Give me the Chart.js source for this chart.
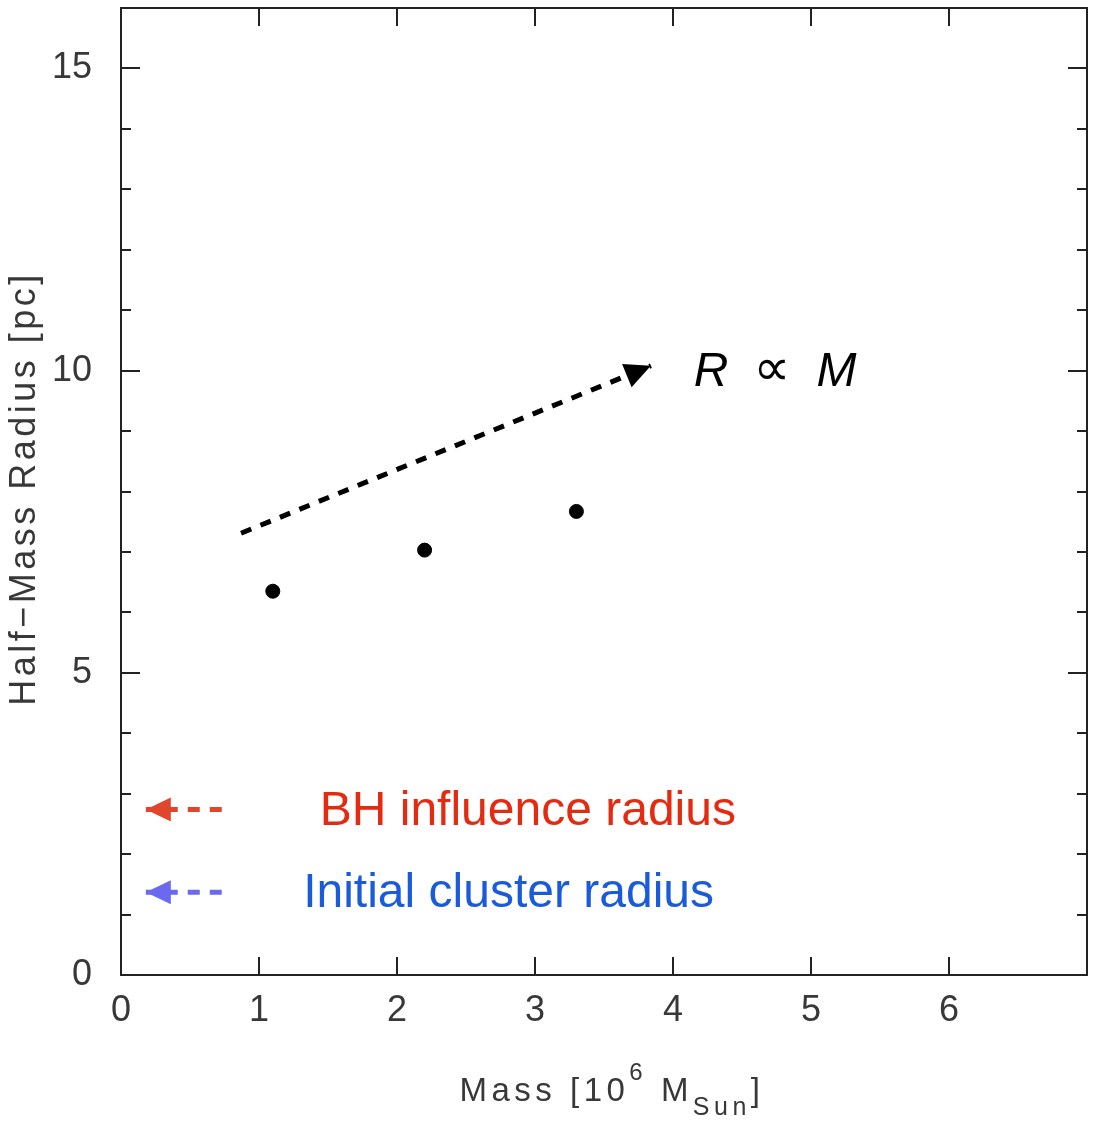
<!DOCTYPE html>
<html>
<head>
<meta charset="utf-8">
<script src="https://cdn.jsdelivr.net/npm/chart.js@4.4.1/dist/chart.umd.min.js"></script>
<style>
    body { margin: 0; background: #ffffff; }
    #radius_chart { display: block; }
</style>
</head>
<body>
<canvas id="radius_chart" width="1095" height="1122"></canvas>
<script>
// cluster mass (10^6 Msun) vs half-mass radius (pc)
var massValues = [1.1, 2.2, 3.3];
var radiusValues = [6.35, 7.03, 7.67];

// R ~ M guide arrow, start and tip
var trendMass = [0.87, 3.84];
var trendRadius = [7.31, 10.08];

// reference radii marked on the left
var markerLabels = ['BH influence radius', 'Initial cluster radius'];
var markerRadii = [2.74, 1.37];

var xTickLabels = ['0', '1', '2', '3', '4', '5', '6'];
var yTickLabels = ['0', '5', '10', '15'];

var axisFont = 'Liberation Sans, Arial, sans-serif';
var axisColor = '#383838';
var markerTextColors = ['#e42a10', '#1a5bd9'];
var markerArrowColors = ['#e0462c', '#6a6af0'];

// little arrows pointing at the axis, drawn right to left so the dash starts at the tail
var markerSets = markerRadii.map(function(r, i) {
    return {
        type: 'line',
        data: [{ x: 0.73, y: r }, { x: 0.18, y: r }],
        borderColor: markerArrowColors[i],
        borderWidth: 5,
        borderDash: [12, 10],
        borderCapStyle: 'butt',
        pointRadius: 0,
        fill: false,
        headLength: 25,
        headWidth: 12,
    };
});

var frameTicks = {
    id: 'frameTicks',
    beforeDatasetsDraw: function(chart) {
        var ctx = chart.ctx;
        var a = chart.chartArea;
        var xs = chart.scales.x;
        var ys = chart.scales.y;
        ctx.save();
        ctx.strokeStyle = '#222222';
        ctx.lineWidth = 2;
        ctx.strokeRect(a.left, a.top, a.right - a.left, a.bottom - a.top);

        ctx.beginPath();
        xs.ticks.forEach(function(t) {
            if (t.value <= xs.min || t.value >= xs.max) return;
            var px = Math.round(xs.getPixelForValue(t.value));
            ctx.moveTo(px, a.bottom);
            ctx.lineTo(px, a.bottom - 18);
            ctx.moveTo(px, a.top);
            ctx.lineTo(px, a.top + 18);
        });
        ys.ticks.forEach(function(t) {
            if (t.value <= ys.min || t.value >= ys.max) return;
            var py = Math.round(ys.getPixelForValue(t.value));
            var len = t.value % 5 === 0 ? 19 : 10;
            ctx.moveTo(a.left, py);
            ctx.lineTo(a.left + len, py);
            ctx.moveTo(a.right, py);
            ctx.lineTo(a.right - len, py);
        });
        ctx.stroke();
        ctx.restore();
    },
    afterDatasetsDraw: function(chart) {
        var ctx = chart.ctx;
        chart.data.datasets.forEach(function(ds, i) {
            if (!ds.headLength) return;
            var pts = chart.getDatasetMeta(i).data;
            var tip = pts[pts.length - 1];
            var prev = pts[pts.length - 2];
            var ang = Math.atan2(tip.y - prev.y, tip.x - prev.x);
            ctx.save();
            ctx.translate(tip.x, tip.y);
            ctx.rotate(ang);
            ctx.fillStyle = ds.borderColor;
            ctx.beginPath();
            ctx.moveTo(0, 0);
            ctx.lineTo(-ds.headLength, -ds.headWidth);
            ctx.lineTo(-ds.headLength, ds.headWidth);
            ctx.closePath();
            ctx.fill();
            ctx.restore();
        });
    }
};

var chartTexts = {
    id: 'chartTexts',
    afterDraw: function(chart) {
        var ctx = chart.ctx;
        var a = chart.chartArea;
        var xs = chart.scales.x;
        var ys = chart.scales.y;
        ctx.save();

        // R ∝ M
        var px = xs.getPixelForValue(4.15);
        var py = ys.getPixelForValue(9.74);
        ctx.fillStyle = '#000000';
        ctx.textBaseline = 'alphabetic';
        ctx.textAlign = 'left';
        ctx.font = 'italic 48px ' + axisFont;
        ctx.fillText('R', px, py);
        px += ctx.measureText('R').width + 25;
        ctx.font = '52px DejaVu Sans, ' + axisFont;
        ctx.fillText('\u221D', px, py - 1);
        px += ctx.measureText('\u221D').width + 26;
        ctx.font = 'italic 48px ' + axisFont;
        ctx.fillText('M', px, py);

        // marker captions
        var labelX = [1.44, 1.32];
        ctx.font = '48px ' + axisFont;
        ctx.textBaseline = 'middle';
        markerLabels.forEach(function(txt, i) {
            ctx.fillStyle = markerTextColors[i];
            ctx.fillText(txt, xs.getPixelForValue(labelX[i]), ys.getPixelForValue(markerRadii[i]) + 2);
        });

        // axis titles
        ctx.fillStyle = axisColor;
        if ('letterSpacing' in ctx) ctx.letterSpacing = '3.5px';

        ctx.save();
        ctx.translate(25, (a.top + a.bottom) / 2 - 3);
        ctx.rotate(-Math.PI / 2);
        ctx.textAlign = 'center';
        ctx.textBaseline = 'middle';
        ctx.font = '36px ' + axisFont;
        ctx.fillText('Half\u2212Mass Radius [pc]', 0, 0);
        ctx.restore();

        if ('letterSpacing' in ctx) ctx.letterSpacing = '4.5px';
        var parts = [
            { t: 'Mass [10', size: 33, dy: 0 },
            { t: '6', size: 24, dy: -21 },
            { t: ' M', size: 33, dy: 0 },
            { t: 'Sun', size: 25, dy: 14 },
            { t: ']', size: 33, dy: 0 }
        ];
        var total = 0;
        parts.forEach(function(p) {
            ctx.font = p.size + 'px ' + axisFont;
            p.w = ctx.measureText(p.t).width;
            total += p.w;
        });
        var x0 = (a.left + a.right) / 2 + 8 - total / 2;
        var base = 1101;
        ctx.textAlign = 'left';
        ctx.textBaseline = 'alphabetic';
        parts.forEach(function(p) {
            ctx.font = p.size + 'px ' + axisFont;
            ctx.fillText(p.t, x0, base + p.dy);
            x0 += p.w;
        });
        ctx.restore();
    }
};

var canvas = document.getElementById('radius_chart');

new Chart(canvas, {
    type: 'scatter',
    data: {
        datasets: [
            {
                type: 'scatter',
                data: massValues.map(function(m, i) { return { x: m, y: radiusValues[i] }; }),
                backgroundColor: '#000000',
                borderColor: '#000000',
                pointRadius: 7,
                pointHoverRadius: 7,
            },
            {
                type: 'line',
                data: trendMass.map(function(m, i) { return { x: m, y: trendRadius[i] }; }),
                borderColor: '#000000',
                borderWidth: 5,
                borderDash: [11, 10],
                borderCapStyle: 'butt',
                pointRadius: 0,
                fill: false,
                headLength: 26,
                headWidth: 12.5,
            }
        ].concat(markerSets)
    },
    options: {
        responsive: false,
        animation: false,
        events: [],
        layout: {
            padding: { top: 5, right: 6, left: 0, bottom: 0 }
        },
        plugins: {
            legend: { display: false },
            tooltip: { enabled: false },
        },
        scales: {
            x: {
                type: 'linear',
                min: 0,
                max: 7,
                grid: { display: false, drawTicks: false },
                border: { display: false },
                ticks: {
                    stepSize: 1,
                    autoSkip: false,
                    maxRotation: 0,
                    padding: 14,
                    color: axisColor,
                    font: { family: axisFont, size: 36 },
                    callback: function(value) {
                        return xTickLabels[value] !== undefined ? xTickLabels[value] : '';
                    }
                },
                afterFit: function(scale) {
                    scale.height = 147;
                    scale.paddingLeft = 0;
                    scale.paddingRight = 0;
                }
            },
            y: {
                type: 'linear',
                min: 0,
                max: 16,
                grid: { display: false, drawTicks: false },
                border: { display: false },
                ticks: {
                    stepSize: 1,
                    autoSkip: false,
                    padding: 29,
                    color: axisColor,
                    font: { family: axisFont, size: 36 },
                    callback: function(value) {
                        return yTickLabels.indexOf(String(value)) >= 0 ? String(value) : '';
                    }
                },
                afterFit: function(scale) {
                    scale.width = 121;
                    scale.paddingTop = 0;
                    scale.paddingBottom = 0;
                }
            }
        }
    },
    plugins: [frameTicks, chartTexts]
});
</script>
</body>
</html>
